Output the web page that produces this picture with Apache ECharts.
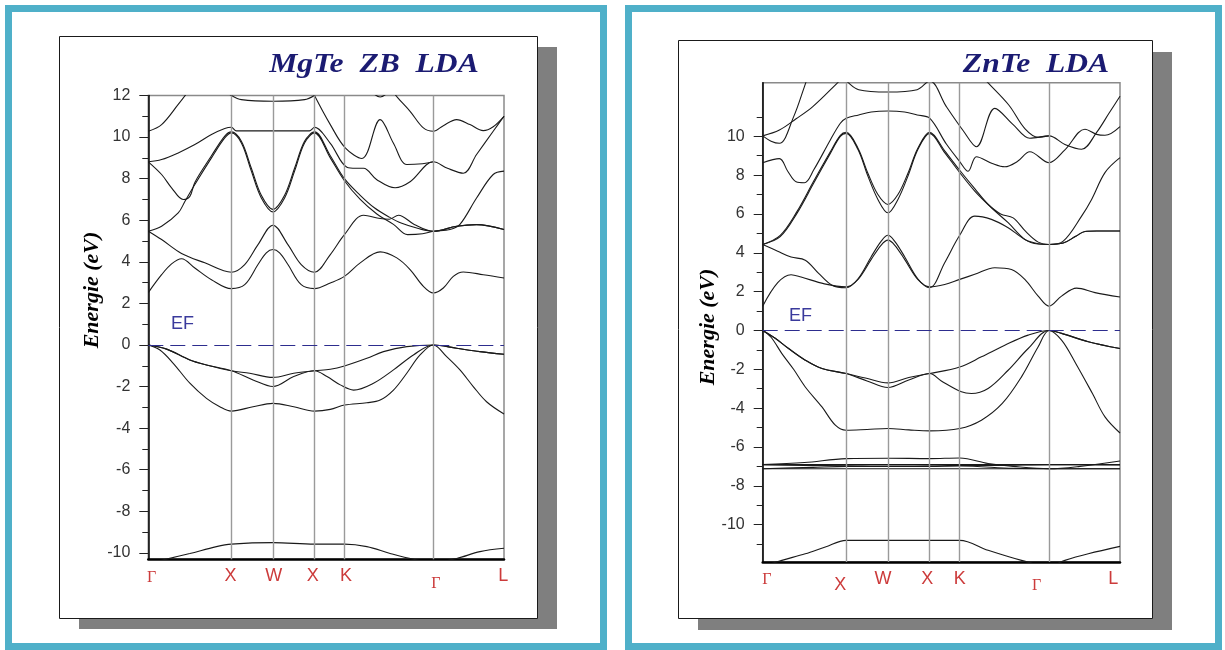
<!DOCTYPE html>
<html>
<head>
<meta charset="utf-8">
<script src="https://cdn.jsdelivr.net/npm/echarts@6/dist/echarts.min.js"></script>
<style>
html, body { margin: 0; padding: 0; background: #fff; }
#main { width: 1225px; height: 650px; }
</style>
</head>
<body>
<div id="main"></div>
<script>
// k path (units 2pi/a) : G - X - W - X - K - G - L
var kPoints = [0, 1, 1.5, 2, 2.36, 3.43, 4.28];
var kNames = ['Γ', 'X', 'W', 'X', 'K', 'Γ', 'L'];
var mgteLabelK = [0.04, 0.99, 1.51, 1.98, 2.38, 3.46, 4.27];
var znteLabelK = [0.05, 0.93, 1.44, 1.97, 2.36, 3.28, 4.2];

// ---- MgTe ZB LDA (eV) ----
var mgteS  = [[0,-10.5],[0.22,-10.3],[0.5,-10.03],[0.82,-9.7],[1,-9.58],[1.5,-9.51],[2,-9.58],[2.36,-9.58],[2.63,-9.7],[2.91,-10.03],[3.19,-10.31],[3.43,-10.45],[3.71,-10.27],[3.99,-9.94],[4.28,-9.78]];
var mgteV3 = [[0,0],[0.14,-0.24],[0.3,-0.88],[0.5,-1.84],[0.7,-2.57],[0.86,-2.97],[1,-3.18],[1.26,-2.97],[1.5,-2.81],[1.75,-2.97],[2,-3.18],[2.19,-3.1],[2.36,-2.89],[2.63,-2.78],[2.79,-2.65],[2.95,-2.17],[3.11,-1.36],[3.27,-0.48],[3.43,0],[3.59,-0.56],[3.75,-1.2],[3.91,-2.0],[4.07,-2.73],[4.28,-3.32]];
var mgteV2 = [[0,0],[0.22,-0.2],[0.5,-0.72],[0.7,-0.96],[1,-1.24],[1.26,-1.68],[1.5,-2.0],[1.75,-1.52],[2,-1.24],[2.15,-1.52],[2.31,-1.92],[2.47,-2.17],[2.71,-1.84],[2.95,-1.2],[3.19,-0.48],[3.43,0],[3.71,-0.16],[3.99,-0.32],[4.28,-0.45]];
var mgteV1 = [[0,0],[0.22,-0.2],[0.5,-0.72],[0.7,-0.96],[1,-1.24],[1.22,-1.36],[1.5,-1.56],[1.75,-1.36],[2,-1.24],[2.19,-1.17],[2.36,-1.01],[2.63,-0.64],[2.83,-0.32],[3.11,-0.08],[3.43,0],[3.71,-0.16],[3.99,-0.32],[4.28,-0.45]];
var mgteC1 = [[0,2.52],[0.16,3.38],[0.28,3.9],[0.4,4.15],[0.56,3.7],[0.76,3.14],[1,2.71],[1.16,2.9],[1.32,3.87],[1.42,4.43],[1.5,4.59],[1.58,4.43],[1.68,3.87],[1.84,2.9],[2,2.71],[2.19,2.98],[2.36,3.3],[2.55,3.95],[2.79,4.48],[2.99,4.19],[3.15,3.63],[3.31,2.82],[3.43,2.5],[3.55,2.74],[3.67,3.3],[3.79,3.51],[4.03,3.38],[4.28,3.22]];
var mgteC2 = [[0,5.47],[0.16,5.07],[0.4,4.4],[0.68,3.95],[1,3.5],[1.16,3.87],[1.32,4.83],[1.5,5.76],[1.68,4.83],[1.84,3.87],[2,3.5],[2.19,4.35],[2.36,5.31],[2.59,6.24],[2.79,6.08],[2.9,6.05],[3.01,6.24],[3.2,5.8],[3.43,5.47],[3.71,5.71],[3.95,5.79],[4.28,5.55]];
var mgteC3 = [[0,5.47],[0.16,5.71],[0.36,6.35],[0.44,6.9],[0.56,7.72],[0.76,9.0],[0.92,9.96],[1,10.2],[1.12,9.72],[1.24,8.36],[1.36,7.07],[1.5,6.4],[1.64,7.07],[1.76,8.36],[1.88,9.72],[2,10.2],[2.19,9.0],[2.36,7.9],[2.55,7.0],[2.75,6.3],[2.95,5.8],[3.12,5.31],[3.3,5.35],[3.43,5.47],[3.63,5.55],[3.75,5.8],[3.95,7.07],[4.15,8.2],[4.28,8.36]];
var mgteC4 = [[0,8.81],[0.16,8.2],[0.28,7.56],[0.42,7.0],[0.5,7.15],[0.56,7.82],[0.76,9.1],[0.92,10.05],[1,10.25],[1.12,9.8],[1.24,8.5],[1.36,7.2],[1.5,6.52],[1.64,7.2],[1.76,8.5],[1.88,9.8],[2,10.25],[2.19,9.1],[2.36,8.0],[2.55,7.2],[2.72,6.6],[2.9,6.15],[3.05,5.85],[3.25,5.6],[3.43,5.47],[3.71,5.71],[3.95,5.79],[4.28,5.55]];
var mgteC5 = [[0,8.81],[0.16,8.92],[0.36,9.24],[0.56,9.64],[0.76,10.12],[0.92,10.41],[1,10.47],[1.06,10.3],[1.5,10.3],[1.94,10.3],[2,10.47],[2.19,9.7],[2.39,8.55],[2.5,8.5],[2.59,8.5],[2.75,7.95],[2.97,7.56],[3.15,7.85],[3.43,8.81],[3.6,8.5],[3.79,8.26],[3.95,9.16],[4.15,10.28],[4.28,11.0]];
var mgteC6 = [[1.96,12.4],[2,12.0],[2.19,10.6],[2.37,9.48],[2.57,8.97],[2.79,10.84],[2.95,9.7],[3.11,8.68],[3.3,8.72],[3.43,8.81]];
var mgteC7 = [[0,10.28],[0.16,10.6],[0.36,11.57],[0.5,12.3]];
var mgteC8 = [[0.9,12.3],[1,12.0],[1.12,11.8],[1.5,11.72],[1.88,11.8],[2,12.0]];
var mgteC9 = [[2.9,12.4],[3.0,11.9],[3.15,11.24],[3.31,10.44],[3.43,10.28],[3.55,10.55],[3.71,10.84],[3.87,10.6],[4.03,10.31],[4.15,10.5],[4.28,11.0]];
var mgteC10 = [[2.68,12.2],[2.79,11.93],[2.9,12.2]];

// ---- ZnTe LDA (eV) ----
var znteS  = [[0,-12.15],[0.23,-11.84],[0.51,-11.5],[0.75,-11.15],[1,-10.81],[1.5,-10.81],[2,-10.81],[2.36,-10.81],[2.7,-11.32],[3.1,-11.84],[3.43,-12.15],[3.62,-11.84],[3.9,-11.5],[4.28,-11.12]];
var znteD1 = [[0,-6.9],[0.5,-6.8],[1,-6.6],[1.5,-6.58],[2,-6.6],[2.36,-6.57],[2.7,-6.85],[3.0,-7.0],[3.43,-7.12],[3.8,-7.0],[4.28,-6.72]];
var znteD2 = [[0,-6.91],[1,-6.91],[2,-6.91],[3.43,-6.91],[4.28,-6.91]];
var znteD3 = [[0,-6.91],[0.5,-6.95],[1,-6.97],[1.5,-7.0],[2,-6.98],[2.36,-6.95],[2.8,-6.95],[3.43,-6.91],[4.28,-6.93]];
var znteD4 = [[0,-7.12],[0.6,-7.05],[1,-7.0],[2,-7.0],[2.36,-6.98],[3.0,-7.1],[3.43,-7.12],[4.28,-7.12]];
var znteD5 = [[0,-7.12],[1,-7.12],[2,-7.12],[3.43,-7.12],[4.28,-7.12]];
var znteV3 = [[0,0],[0.1,-0.35],[0.23,-1.19],[0.37,-2.0],[0.51,-2.91],[0.71,-3.94],[0.87,-4.88],[1,-5.14],[1.25,-5.1],[1.5,-5.05],[1.75,-5.12],[2,-5.17],[2.36,-5.05],[2.62,-4.62],[2.87,-3.76],[3.1,-2.39],[3.3,-0.84],[3.43,0],[3.58,-0.5],[3.75,-1.7],[3.95,-3.25],[4.1,-4.45],[4.28,-5.28]];
var znteV2 = [[0,0],[0.15,-0.4],[0.31,-0.93],[0.51,-1.53],[0.71,-1.96],[1,-2.22],[1.25,-2.6],[1.5,-2.94],[1.75,-2.55],[2,-2.22],[2.14,-2.6],[2.38,-3.16],[2.5,-3.25],[2.7,-2.99],[2.94,-2.05],[3.18,-0.93],[3.43,0],[3.58,-0.15],[3.9,-0.58],[4.28,-0.93]];
var znteV1 = [[0,0],[0.15,-0.4],[0.31,-0.93],[0.51,-1.53],[0.71,-1.96],[1,-2.22],[1.23,-2.45],[1.5,-2.7],[1.75,-2.42],[2,-2.22],[2.36,-1.88],[2.62,-1.36],[2.9,-0.76],[3.18,-0.24],[3.43,0],[3.58,-0.15],[3.9,-0.58],[4.28,-0.93]];
var znteC1 = [[0,1.25],[0.18,2.46],[0.34,2.87],[0.46,2.75],[0.74,2.4],[1,2.25],[1.14,2.62],[1.3,3.66],[1.42,4.4],[1.5,4.65],[1.58,4.4],[1.7,3.66],[1.86,2.62],[2,2.25],[2.18,2.37],[2.36,2.63],[2.54,2.89],[2.78,3.23],[2.98,3.14],[3.14,2.63],[3.3,1.77],[3.43,1.25],[3.58,1.77],[3.76,2.18],[3.98,1.95],[4.28,1.72]];
var znteC2 = [[0,4.43],[0.18,4.08],[0.34,3.78],[0.51,3.62],[0.67,2.94],[0.83,2.33],[1,2.2],[1.14,2.65],[1.3,3.8],[1.42,4.6],[1.5,4.9],[1.58,4.6],[1.7,3.8],[1.86,2.65],[2,2.2],[2.18,3.49],[2.36,4.9],[2.54,5.89],[2.74,5.72],[2.94,5.29],[3.14,4.69],[3.3,4.47],[3.43,4.43],[3.6,4.5],[3.75,4.85],[3.86,5.1],[4.0,5.12],[4.28,5.12]];
var znteC3 = [[0,4.43],[0.21,4.83],[0.41,6.03],[0.61,7.58],[0.81,9.12],[0.93,10.0],[1,10.15],[1.14,9.33],[1.26,7.95],[1.38,6.75],[1.5,6.06],[1.62,6.75],[1.74,7.95],[1.86,9.33],[2,10.15],[2.18,9.16],[2.36,8.13],[2.54,7.18],[2.74,6.32],[2.94,5.55],[3.14,4.69],[3.3,4.45],[3.43,4.43],[3.6,4.6],[3.82,5.89],[3.94,6.75],[4.1,8.13],[4.28,8.9]];
var znteC4 = [[0,4.43],[0.21,4.9],[0.41,6.12],[0.61,7.68],[0.81,9.2],[0.93,10.05],[1,10.2],[1.14,9.4],[1.26,8.1],[1.38,7.0],[1.5,6.49],[1.62,7.0],[1.74,8.1],[1.86,9.4],[2,10.2],[2.18,9.25],[2.36,8.25],[2.54,7.3],[2.7,6.5],[2.85,6.0],[3.0,5.8],[3.15,5.1],[3.3,4.55],[3.43,4.43],[3.6,4.5],[3.75,4.85],[3.86,5.1],[4.0,5.12],[4.28,5.12]];
var znteC5 = [[0,8.64],[0.2,8.85],[0.3,8.2],[0.4,7.66],[0.5,7.61],[0.61,8.26],[0.81,9.81],[0.93,10.67],[1,10.93],[1.15,11.1],[1.3,11.25],[1.5,11.3],[1.7,11.25],[1.85,11.1],[2,10.93],[2.2,9.6],[2.36,8.7],[2.46,8.2],[2.56,8.95],[2.75,8.6],[2.9,8.43],[3.05,8.7],[3.2,9.2],[3.43,8.64],[3.62,9.3],[3.86,10.36],[4.0,10.1],[4.1,10.05],[4.28,10.5]];
var znteC6 = [[0,10.02],[0.1,9.75],[0.2,9.64],[0.37,11.0],[0.5,12.56],[0.55,13.2]];
var znteC7 = [[0,10.02],[0.2,10.32],[0.4,10.9],[0.6,11.53],[0.89,12.73],[0.95,13.0]];
var znteC8 = [[0.9,13.2],[1,12.85],[1.15,12.4],[1.5,12.28],[1.85,12.4],[2,12.85],[2.2,11.53],[2.4,10.3],[2.56,9.46],[2.78,11.44],[3.0,10.6],[3.2,9.9],[3.43,10.02],[3.62,9.58],[3.82,9.33],[4.0,10.2],[4.15,11.2],[4.28,12.06]];
var znteC9 = [[2.6,13.2],[2.7,12.75],[2.95,11.6],[3.14,10.4],[3.3,9.95],[3.43,10.02]];

var mgteBands = [mgteS, mgteV3, mgteV2, mgteV1, mgteC1, mgteC2, mgteC3, mgteC4, mgteC5, mgteC6, mgteC7, mgteC8, mgteC9, mgteC10];
var znteBands = [znteS, znteD1, znteD2, znteD3, znteD4, znteD5, znteV3, znteV2, znteV1, znteC1, znteC2, znteC3, znteC4, znteC5, znteC6, znteC7, znteC8, znteC9];

// y ticks
var mgteMajor = [-10, -8, -6, -4, -2, 0, 2, 4, 6, 8, 10, 12];
var mgteMinor = [-9, -7, -5, -3, -1, 1, 3, 5, 7, 9, 11];
var znteMajor = [-10, -8, -6, -4, -2, 0, 2, 4, 6, 8, 10];
var znteMinor = [-11, -9, -7, -5, -3, -1, 1, 3, 5, 7, 9, 11];

var myChart = echarts.init(document.getElementById('main'), null, { renderer: 'canvas' });

function xAxisFor(grid, labelK) {
    return {
        type: 'value', gridIndex: grid, min: 0, max: 4.28,
        position: 'bottom',
        splitLine: { show: false },
        axisTick: { show: false },
        axisLine: { show: true, onZero: false, lineStyle: { color: '#000', width: 2.5 } },
        axisLabel: {
            customValues: labelK,
            margin: 8,
            color: '#cc3b3b',
            fontSize: 18,
            fontFamily: 'Liberation Sans',
            formatter: function (v) {
                var i = labelK.indexOf(v);
                var name = kNames[i];
                if (name === 'Γ') {
                    return i === 0 ? '{g|Γ}' : '{g2|Γ}';
                }
                if (grid === 1 && i === 1) return '{low|X}';
                return name;
            },
            rich: {
                g: { fontSize: 16, fontFamily: 'Liberation Serif', color: '#cc3b3b', padding: [2, 0, 0, 0] },
                g2: { fontSize: 16, fontFamily: 'Liberation Serif', color: '#cc3b3b', padding: [8, 0, 0, 0] },
                low: { fontSize: 18, fontFamily: 'Liberation Sans', color: '#cc3b3b', padding: [6, 0, 0, 0] }
            }
        }
    };
}

function yAxesFor(grid, min, max, major, minor) {
    return [{
        type: 'value', gridIndex: grid, min: min, max: max, position: 'left',
        splitLine: { show: false },
        axisLine: { show: true, onZero: false, lineStyle: { color: '#000', width: 1.5 } },
        axisTick: { show: true, customValues: major, length: 9, lineStyle: { color: '#222', width: 1 } },
        axisLabel: { customValues: major, margin: 18, color: '#333', fontSize: 16, fontFamily: 'Liberation Sans' }
    }, {
        type: 'value', gridIndex: grid, min: min, max: max, position: 'left',
        splitLine: { show: false },
        axisLine: { show: false, onZero: false },
        axisTick: { show: true, customValues: minor, length: 6, lineStyle: { color: '#222', width: 1 } },
        axisLabel: { show: false }
    }];
}

var series = [];
function addBands(bands, grid, yIdx) {
    for (var i = 0; i < bands.length; i++) {
        series.push({
            type: 'line', xAxisIndex: grid, yAxisIndex: yIdx,
            data: bands[i], showSymbol: false, smooth: 0.35, silent: true,
            lineStyle: { color: '#1a1a1a', width: 1.1 },
            clip: true
        });
    }
    // vertical symmetry lines and the Fermi level
    var marks = [];
    for (var j = 1; j < kPoints.length - 1; j++) {
        marks.push({ xAxis: kPoints[j] });
    }
    marks.push({ yAxis: 0, lineStyle: { color: '#2d2d8e', type: [15, 7], width: 1.2 } });
    series.push({
        type: 'line', xAxisIndex: grid, yAxisIndex: yIdx, data: [], silent: true,
        markLine: {
            silent: true, symbol: ['none', 'none'], label: { show: false },
            lineStyle: { color: '#9a9a9a', type: 'solid', width: 1.4 },
            data: marks
        }
    });
}
addBands(mgteBands, 0, 0);
addBands(znteBands, 1, 2);

var titleFont = 'bold italic 27px "Liberation Serif"';
var nameFont = 'bold italic 22px "Liberation Serif"';

option = {
    backgroundColor: '#ffffff',
    animation: false,
    grid: [
        { left: 148.3, top: 95.5, width: 355.7, height: 463.8, show: true, borderColor: '#8a8a8a', borderWidth: 1.5, backgroundColor: 'transparent' },
        { left: 762.7, top: 82.7, width: 357.3, height: 479.4, show: true, borderColor: '#8a8a8a', borderWidth: 1.5, backgroundColor: 'transparent' }
    ],
    xAxis: [xAxisFor(0, mgteLabelK), xAxisFor(1, znteLabelK)],
    yAxis: yAxesFor(0, -10.31, 12, mgteMajor, mgteMinor).concat(yAxesFor(1, -11.93, 12.76, znteMajor, znteMinor)),
    series: series,
    graphic: [
        // blue frames
        { type: 'rect', z: -20, shape: { x: 8.5, y: 8.5, width: 595, height: 638 }, style: { fill: 'none', stroke: '#4fb0c9', lineWidth: 7 } },
        { type: 'rect', z: -20, shape: { x: 628.5, y: 8.5, width: 590, height: 638 }, style: { fill: 'none', stroke: '#4fb0c9', lineWidth: 7 } },
        // page shadows
        { type: 'rect', z: -19, shape: { x: 79, y: 47, width: 478, height: 582 }, style: { fill: '#7f7f7f' } },
        { type: 'rect', z: -19, shape: { x: 698, y: 52, width: 474, height: 578 }, style: { fill: '#7f7f7f' } },
        // pages
        { type: 'rect', z: -18, shape: { x: 59.5, y: 36.5, width: 478, height: 582 }, style: { fill: '#fff', stroke: '#1a1a1a', lineWidth: 1 } },
        { type: 'rect', z: -18, shape: { x: 678.5, y: 40.5, width: 474, height: 578 }, style: { fill: '#fff', stroke: '#1a1a1a', lineWidth: 1 } },
        // titles
        { type: 'text', z: 50, x: 374, y: 65, scaleX: 1.17, style: { text: 'MgTe  ZB  LDA', font: titleFont, fill: '#1b1b72', textAlign: 'center', textVerticalAlign: 'middle' } },
        { type: 'text', z: 50, x: 1036, y: 65, scaleX: 1.17, style: { text: 'ZnTe  LDA', font: titleFont, fill: '#1b1b72', textAlign: 'center', textVerticalAlign: 'middle' } },
        // axis names
        { type: 'text', z: 50, x: 92, y: 290, rotation: Math.PI / 2, style: { text: 'Energie (eV)', font: nameFont, fill: '#000', textAlign: 'center', textVerticalAlign: 'middle' } },
        { type: 'text', z: 50, x: 708, y: 327, rotation: Math.PI / 2, style: { text: 'Energie (eV)', font: nameFont, fill: '#000', textAlign: 'center', textVerticalAlign: 'middle' } },
        // Fermi level labels
        { type: 'text', z: 50, x: 171, y: 324, style: { text: 'EF', font: '18px "Liberation Sans"', fill: '#3a3a9c', textAlign: 'left', textVerticalAlign: 'middle' } },
        { type: 'text', z: 50, x: 789, y: 316, style: { text: 'EF', font: '18px "Liberation Sans"', fill: '#3a3a9c', textAlign: 'left', textVerticalAlign: 'middle' } }
    ]
};

myChart.setOption(option);
</script>
</body>
</html>
